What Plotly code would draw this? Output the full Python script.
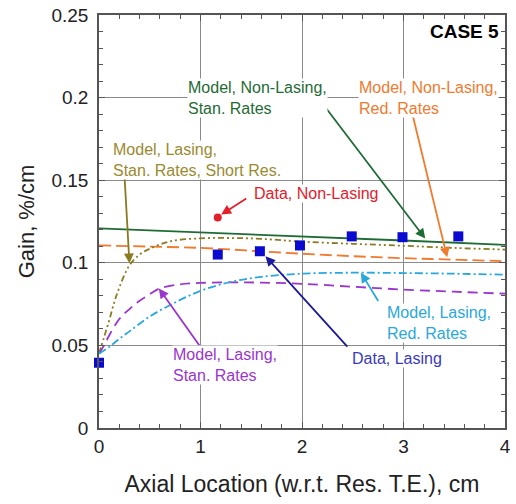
import plotly.graph_objects as go

# ---- data ----
lasing_x = [0.0, 1.17, 1.585, 1.98, 2.49, 2.99, 3.54]
lasing_y = [0.0395, 0.105, 0.107, 0.1105, 0.116, 0.1155, 0.116]

nonlasing_x = [1.17]
nonlasing_y = [0.1274]

green_x = [0, 1, 2, 3, 4]
green_y = [0.1208, 0.1185, 0.116, 0.1135, 0.1108]

orange_x = [0, 0.5, 1, 1.5, 2, 2.5, 3, 3.5, 4]
orange_y = [0.1105, 0.1098, 0.109, 0.1073, 0.1055, 0.104, 0.1028, 0.1019, 0.101]

olive_x = [0, 0.05, 0.1, 0.15, 0.2, 0.3, 0.4, 0.5, 0.7, 1.0, 1.3, 1.6, 2, 2.5, 3, 3.5, 4]
olive_y = [0.045, 0.055, 0.065, 0.076, 0.085, 0.0985, 0.105, 0.1085, 0.113, 0.1148,
           0.115, 0.1145, 0.1128, 0.1115, 0.1103, 0.109, 0.108]

purple_x = [0, 0.05, 0.1, 0.2, 0.3, 0.4, 0.5, 0.6, 0.8, 1.0, 1.3, 1.6, 2, 2.5, 3, 3.5, 4]
purple_y = [0.045, 0.05, 0.056, 0.066, 0.072, 0.077, 0.081, 0.0845, 0.087, 0.0878,
            0.0882, 0.088, 0.0873, 0.0855, 0.0838, 0.0825, 0.0813]

cyan_x = [0, 0.1, 0.2, 0.3, 0.5, 0.75, 1.0, 1.3, 1.6, 2, 2.5, 3, 3.5, 4]
cyan_y = [0.045, 0.049, 0.054, 0.0585, 0.0675, 0.076, 0.083, 0.0885, 0.0915, 0.0934,
          0.094, 0.0938, 0.0934, 0.0928]

x_ticks = [0, 1, 2, 3, 4]
x_tick_labels = ["0", "1", "2", "3", "4"]
y_ticks = [0, 0.05, 0.1, 0.15, 0.2, 0.25]
y_tick_labels = ["0", "0.05", "0.1", "0.15", "0.2", "0.25"]

# colours
C_GREEN = "#1f6b35"
C_ORANGE = "#f07a2e"
C_OLIVE = "#8a7a22"
C_OLIVE_T = "#9a8a30"
C_RED = "#e3202a"
C_BLUE = "#0a0ad0"
C_BLUE_T = "#3a3ac0"
C_NAVY = "#1a1a9a"
C_CYAN = "#2aa8dc"
C_PURPLE = "#9a35d0"

FONT = "Liberation Sans, Arial, sans-serif"

fig = go.Figure()

fig.add_trace(go.Scatter(x=green_x, y=green_y, mode="lines",
                         line=dict(color=C_GREEN, width=1.8)))
fig.add_trace(go.Scatter(x=orange_x, y=orange_y, mode="lines", line_shape="spline",
                         line=dict(color=C_ORANGE, width=1.8, dash="12px,5px")))
fig.add_trace(go.Scatter(x=olive_x, y=olive_y, mode="lines", line_shape="spline",
                         line=dict(color=C_OLIVE, width=1.8, dash="6px,3px,2px,3px,2px,3px")))
fig.add_trace(go.Scatter(x=purple_x, y=purple_y, mode="lines", line_shape="spline",
                         line=dict(color=C_PURPLE, width=1.8, dash="10px,6px")))
fig.add_trace(go.Scatter(x=cyan_x, y=cyan_y, mode="lines", line_shape="spline",
                         line=dict(color=C_CYAN, width=1.8, dash="8px,3px,2px,3px")))
fig.add_trace(go.Scatter(x=lasing_x, y=lasing_y, mode="markers",
                         marker=dict(symbol="square", size=10, color=C_BLUE),
                         cliponaxis=False))
fig.add_trace(go.Scatter(x=nonlasing_x, y=nonlasing_y, mode="markers",
                         marker=dict(symbol="circle", size=8, color=C_RED)))

# arrows: (tail x, tail y, head x, head y, colour)
arrows = [
    (2.146, 0.201, 3.214, 0.1147, C_GREEN),
    (3.08, 0.192, 3.43, 0.1033, C_ORANGE),
    (0.25, 0.154, 0.30, 0.0997, C_OLIVE),
    (1.466, 0.1395, 1.204, 0.1292, C_RED),
    (2.76, 0.076, 2.58, 0.094, C_CYAN),
    (2.46, 0.0483, 1.64, 0.104, C_NAVY),
    (1.0, 0.049, 0.59, 0.0845, C_PURPLE),
]
for tx, ty, hx, hy, col in arrows:
    fig.add_annotation(x=hx, y=hy, ax=tx, ay=ty, xref="x", yref="y",
                       axref="x", ayref="y", text="", showarrow=True,
                       arrowhead=2, arrowsize=1.1, arrowwidth=1.8, arrowcolor=col)

# labels: (x left, y middle, text, colour)
labels = [
    (0.864, 0.1996, "Model, Non-Lasing,<br>Stan. Rates", C_GREEN),
    (2.553, 0.1996, "Model, Non-Lasing,<br>Red. Rates", C_ORANGE),
    (0.126, 0.1624, "Model, Lasing,<br>Stan. Rates, Short Res.", C_OLIVE_T),
    (1.515, 0.1419, "Data, Non-Lasing", C_RED),
    (2.825, 0.0634, "Model, Lasing,<br>Red. Rates", C_CYAN),
    (2.485, 0.0423, "Data, Lasing", C_BLUE_T),
    (0.718, 0.038, "Model, Lasing,<br>Stan. Rates", C_PURPLE),
]
for lx, ly, txt, col in labels:
    fig.add_annotation(x=lx, y=ly, xref="x", yref="y", text=txt, showarrow=False,
                       xanchor="left", yanchor="middle", align="left",
                       bgcolor="white", borderpad=0,
                       font=dict(family=FONT, size=16, color=col))

fig.add_annotation(x=3.96, y=0.2403, xref="x", yref="y", text="<b>CASE 5</b>",
                   showarrow=False, xanchor="right", yanchor="middle",
                   font=dict(family=FONT, size=19, color="black"))

axis_common = dict(
    showline=True, linecolor="#555555", linewidth=1.5, mirror="ticks",
    ticks="inside", ticklen=6, tickcolor="#555555", tickwidth=1,
    showgrid=True, gridcolor="#8a8a8a", gridwidth=1, zeroline=False,
    tickfont=dict(family=FONT, size=19, color="#222222"),
)

fig.update_xaxes(range=[0, 4], tickvals=x_ticks, ticktext=x_tick_labels,
                 minor=dict(dtick=0.2, ticks="inside", ticklen=4, tickcolor="#555555",
                            showgrid=False),
                 title=dict(text="Axial Location (w.r.t. Res. T.E.), cm", standoff=20,
                            font=dict(family=FONT, size=23, color="#222222")),
                 **axis_common)
fig.update_yaxes(range=[0, 0.25], tickvals=y_ticks, ticktext=y_tick_labels,
                 minor=dict(dtick=0.01, ticks="inside", ticklen=4, tickcolor="#555555",
                            showgrid=False),
                 ticklabelstandoff=5,
                 title=dict(text="Gain, %/cm", standoff=11,
                            font=dict(family=FONT, size=22, color="#222222")),
                 **axis_common)

fig.update_layout(
    width=516, height=504,
    margin=dict(l=99, r=5, t=14, b=76),
    paper_bgcolor="white", plot_bgcolor="white",
    showlegend=False,
)

fig.write_html("out.html")
